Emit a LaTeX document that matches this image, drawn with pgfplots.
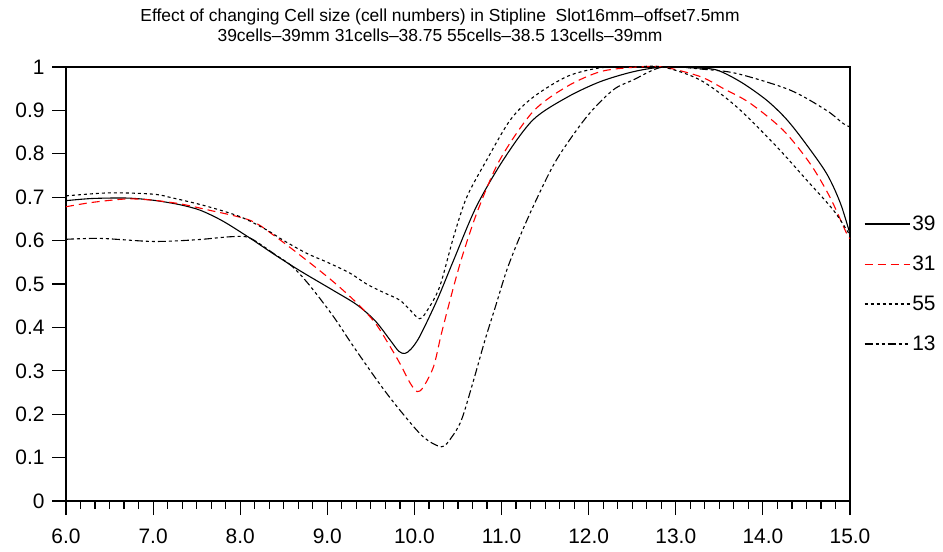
\documentclass[border=0pt]{standalone}
\usepackage{pgfplots}
\pgfplotsset{compat=1.18}
\usepackage{fontspec}
\setmainfont{Liberation Sans}
\begin{document}
\begin{tikzpicture}
\path[use as bounding box] (-66bp,-51bp) rectangle (877bp,501bp);
\begin{axis}[
  at={(0,0)}, anchor=south west,
  scale only axis, width=784bp, height=434bp,
  xmin=6, xmax=15, ymin=0, ymax=1,
  xtick={6,7,...,15}, ytick={0,0.1,...,1.01},
  minor x tick num=5,
  tick align=outside,
  major tick length=14bp, minor tick length=8bp,
  xtick pos=bottom, ytick pos=left,
  axis line style={line width=1.6pt},
  every tick/.style={black, line width=1.2pt},
  tick label style={font=\fontsize{21}{24}\selectfont},
  /pgf/number format/assume math mode=true,
  xticklabel style={/pgf/number format/.cd, fixed, fixed zerofill, precision=1},
  yticklabel style={/pgf/number format/.cd, fixed, precision=1},
  xticklabel shift=10bp, yticklabel shift=4bp,
  legend style={draw=none, fill=none, at={(1,0.5)}, anchor=west, xshift=11bp,
    font=\fontsize{21}{24}\selectfont, row sep=20bp},
  legend cell align=left,
  legend image code/.code={\draw[#1] (0bp,0bp) -- (45bp,0bp);},
  clip=false,
]
\addplot[black, line width=1.1pt, smooth, tension=0.5] coordinates {
(6.0,0.692) (6.3,0.697) (6.7,0.698) (7.0,0.693) (7.3,0.683) (7.54,0.670) (7.8,0.645)
(8.11,0.606) (8.4,0.567) (8.69,0.530) (9.07,0.485) (9.34,0.452) (9.55,0.415) (9.72,0.371)
(9.82,0.345) (9.89,0.340) (9.96,0.350) (10.06,0.379) (10.26,0.463) (10.45,0.555) (10.71,0.678)
(11.02,0.786) (11.36,0.878) (11.75,0.930) (12.13,0.966) (12.51,0.989) (12.85,1.0)
(13.2,0.998) (13.47,0.993) (13.75,0.965) (14.04,0.924) (14.26,0.882) (14.46,0.832)
(14.73,0.755) (14.89,0.686) (15.0,0.615)};
\addlegendentry{39}
\addplot[red, line width=1.1pt, dash pattern=on 8bp off 5bp, smooth, tension=0.5] coordinates {
(6.0,0.678) (6.3,0.688) (6.7,0.696) (7.0,0.693) (7.3,0.685) (7.6,0.672) (8.11,0.647)
(8.4,0.610) (8.76,0.555) (9.07,0.505) (9.34,0.456) (9.55,0.410) (9.72,0.356) (9.83,0.318)
(9.95,0.272) (10.03,0.252) (10.1,0.262) (10.22,0.310) (10.31,0.386) (10.45,0.494)
(10.56,0.571) (10.73,0.671) (10.98,0.786) (11.36,0.897) (11.75,0.955) (12.13,0.989)
(12.5,0.999) (12.85,1.0) (13.28,0.978) (13.55,0.950) (13.85,0.917) (14.23,0.855)
(14.54,0.778) (14.77,0.700) (14.96,0.617) (15.0,0.605)};
\addlegendentry{31}
\addplot[black, line width=1.1pt, dash pattern=on 3bp off 3bp, smooth, tension=0.5] coordinates {
(6.0,0.703) (6.5,0.710) (7.0,0.707) (7.23,0.698) (7.6,0.680) (8.0,0.655) (8.3,0.625)
(8.5,0.600) (8.76,0.571) (9.0,0.550) (9.26,0.525) (9.45,0.500) (9.65,0.480) (9.83,0.463)
(9.95,0.440) (10.06,0.420) (10.15,0.440) (10.29,0.494) (10.45,0.609) (10.6,0.700)
(10.83,0.786) (11.1,0.878) (11.36,0.930) (11.75,0.978) (12.13,0.998) (12.5,1.0) (12.85,1.0)
(13.28,0.970) (13.7,0.908) (14.16,0.816) (14.5,0.740) (14.81,0.670) (15.0,0.612)};
\addlegendentry{55}
\addplot[black, line width=1.1pt, dash pattern=on 8bp off 3bp on 3bp off 3bp on 3bp off 3bp, smooth, tension=0.5] coordinates {
(6.0,0.603) (6.4,0.605) (7.0,0.598) (7.5,0.602) (7.9,0.609) (8.11,0.606) (8.4,0.568)
(8.6,0.540) (8.8,0.496) (9.07,0.425) (9.3,0.356) (9.6,0.270) (9.83,0.210) (10.1,0.148)
(10.31,0.125) (10.42,0.145) (10.54,0.187) (10.68,0.279) (10.81,0.371) (10.93,0.448)
(11.06,0.532) (11.21,0.609) (11.38,0.686) (11.63,0.786) (11.98,0.886) (12.28,0.947)
(12.51,0.970) (12.85,1.0) (13.3,0.995) (13.7,0.985) (14.31,0.947) (14.73,0.900)
(14.92,0.870) (15.0,0.862)};
\addlegendentry{13}
\node[font=\fontsize{17.5}{20}\selectfont, align=center, anchor=north] at (374bp,496bp)
 {Effect of changing Cell size (cell numbers) in Stipline\ \ Slot16mm--offset7.5mm\\
  39cells--39mm 31cells--38.75 55cells--38.5 13cells--39mm};
\end{axis}
\end{tikzpicture}
\end{document}
